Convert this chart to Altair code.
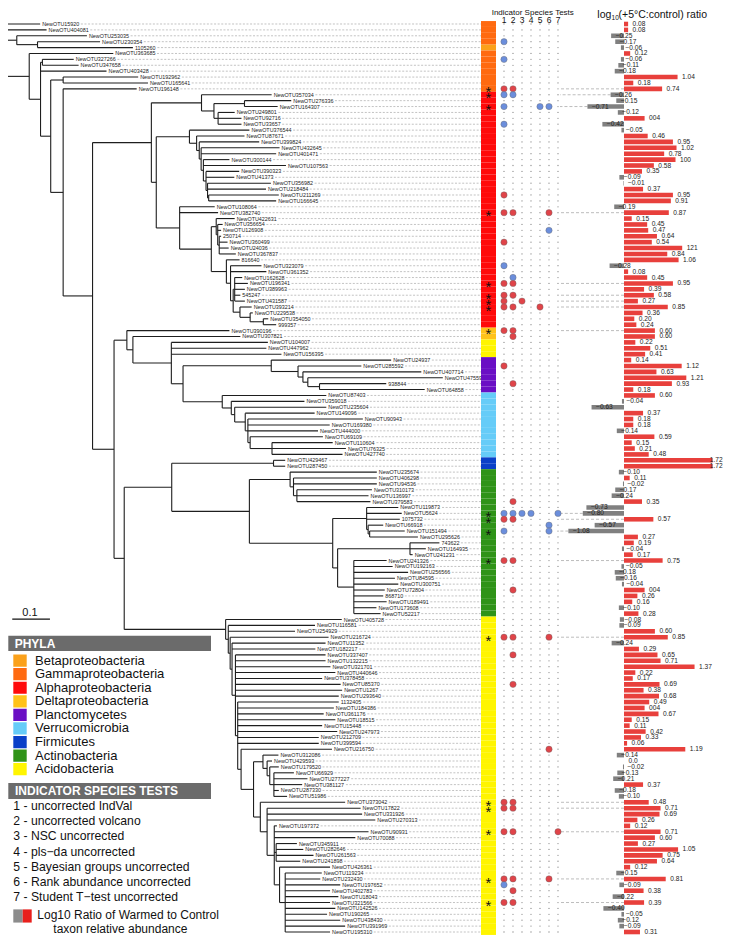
import altair as alt
import pandas as pd

# ------------------------------------------------------------------ data
# phylogeny (Newick, branch lengths in substitutions/site)
K_ = ("(816640:0.035,(NewOTU323079:0.082,NewOTU361352:0.095,((NewOTU162628:0.02,NewOTU196341:0.035,"
      "NewOTU389963:0.027,545247:0.015,NewOTU431587:0.027):0.004,(NewOTU393214:0.031,(NewOTU229538:0.007,"
      "(NewOTU354050:0.013,999357:0.034):0.035):0.027):0.018):0.007):0.011)")
J1_ = ("(NewOTU422631:0.049,(NewOTU356654:0.013,NewOTU126908:0.009,(250714:0.005,NewOTU360499:0.022,"
       "NewOTU24036:0.025,NewOTU367837:0.044):0.004):0.004)")
I_ = "(NewOTU108064:0.093,NewOTU382740:0.102,(" + J1_ + ":0.013," + K_ + ":0.04):0.084)"
H_ = ("(NewOTU376544:0.159,(NewOTU87671:0.127,(NewOTU399824:0.159,(NewOTU432645:0.208,NewOTU401471:0.199,"
      "(NewOTU300144:0.069,NewOTU107563:0.219,(NewOTU390323:0.088,NewOTU41373:0.075,(NewOTU356982:0.168,"
      "NewOTU218484:0.155,(NewOTU211269:0.186,NewOTU166645:0.179):0.003):0.004):0.007):0.006):0.005):0.007):0.019)")
G_ = ("((NewOTU357034:0.186,((NewOTU276336:0.124,NewOTU164307:0.088):0.081,(NewOTU249801:0.044,"
      "NewOTU92716:0.062,NewOTU33657:0.062):0.011):0.033):0.133,(" + H_ + ":0.088," + I_ + ":0.062):0.013)")
Q_ = ("(NewOTU24937:0.318,(NewOTU285592:0.168,(NewOTU407714:0.314,(NewOTU47559:0.358,(938844:0.177,"
      "NewOTU64858:0.279):0.031):0.013):0.013):0.071)")
R_ = ("(NewOTU87403:0.276,(NewOTU359018:0.194,(NewOTU235604:0.243,(NewOTU149096:0.184,(NewOTU90943:0.305,"
      "NewOTU169380:0.217,NewOTU444000:0.186,(NewOTU69109:0.193,(NewOTU110604:0.161,NewOTU76325:0.196,"
      "NewOTU427740:0.187):0.058):0.006):0.007):0.028):0.009):0.024)")
O_ = "(NewOTU104007:0.256,NewOTU447962:0.252,NewOTU156395:0.292,(" + Q_ + ":0.234," + R_ + ":0.104):0.031)"
N_ = "(NewOTU390196:0.272,(NewOTU307821:0.285," + O_ + ":0.102):0.016)"
U1_ = ("(NewOTU235674:0.23,(NewOTU406298:0.221,NewOTU94536:0.221,(NewOTU310173:0.199,NewOTU136997:0.19,"
       "NewOTU379583:0.195):0.009):0.009)")
V_ = ("((NewOTU119873:0.084,NewOTU5624:0.093,1075732:0.088,(NewOTU66918:0.04,(NewOTU151494:0.093,"
      "NewOTU295626:0.128):0.004):0.004):0.09,((743622:0.078,NewOTU164935:0.042,NewOTU241231:0.007):0.192,"
      "(NewOTU241326:0.087,NewOTU192163:0.103,NewOTU256566:0.144,NewOTU84595:0.109,NewOTU300751:0.118,"
      "NewOTU72804:0.082,868710:0.078,NewOTU189491:0.087,NewOTU173608:0.06,NewOTU52217:0.071):0.043):0.013)")
T_ = "((NewOTU429467:0.031,NewOTU287450:0.031):0.27,(" + U1_ + ":0.108," + V_ + ":0.221):0.206)"
Y1_ = ("(NewOTU312086:0.041,(NewOTU429593:0.013,(NewOTU179520:0.024,(NewOTU66929:0.053,NewOTU277227:0.089,"
       "NewOTU381127:0.075,NewOTU287330:0.013,NewOTU51986:0.035):0.011):0.007):0.011)")
Z_ = ("(NewOTU373042:0.225,(NewOTU17822:0.248,NewOTU331926:0.252,NewOTU270313:0.287,(NewOTU197372:0.007,"
      "NewOTU90931:0.25,NewOTU70088:0.215,(NewOTU345911:0.055,NewOTU282646:0.072,NewOTU261563:0.099,"
      "NewOTU241898:0.064):0.005,(NewOTU426361:0.134,(NewOTU119234:0.097,NewOTU232430:0.093,NewOTU197652:0.146,"
      "NewOTU402783:0.119,NewOTU18043:0.141,NewOTU321566:0.119,NewOTU142526:0.133,NewOTU190265:0.111,"
      "NewOTU438430:0.146,NewOTU391969:0.159,NewOTU195310:0.119):0.015):0.014):0.019):0.018)")
X_ = ("(NewOTU405728:0.308,(NewOTU116581:0.23,NewOTU254929:0.177,(NewOTU216724:0.261,(NewOTU11352:0.248,"
      "NewOTU182217:0.221,(NewOTU337407:0.239,NewOTU132215:0.239,NewOTU321701:0.252,NewOTU440646:0.265,"
      "NewOTU378458:0.23,NewOTU85370:0.279,NewOTU1267:0.283,NewOTU293640:0.274,(1132405:0.268,NewOTU184386:0.255,"
      "NewOTU361176:0.228,NewOTU18515:0.259,NewOTU15448:0.224,NewOTU247973:0.264,NewOTU212709:0.215,"
      "NewOTU399594:0.215,(NewOTU216750:0.241,(" + Y1_ + ":0.025," + Z_ + ":0.018):0.033):0.009):0.006):0.009)"
      ":0.005):0.005):0.007)")
M_ = "(" + N_ + ":0.034,(" + T_ + ":0.126," + X_ + ":0.269):0.027)"
newick = ("(NewOTU15920:0.087,NewOTU404081:0.104,(NewOTU253035:0.186,(NewOTU230354:0.166,1105260:0.253):0.055):0.025,"
          "(NewOTU363685:0.223,((NewOTU327266:0.083,NewOTU347658:0.096):0.005,NewOTU403428:0.175,"
          "((NewOTU192962:0.199,NewOTU165641:0.225):0.033,(NewOTU196148:0.195,(" + G_ + ":0.156," + M_ +
          ":0.057):0.078):0.033):0.027):0.03):0.058):0.015;")

# log10(+5C:control) ratio, top to bottom, and the labels printed beside the bars
ratio = [0.08, 0.08, -0.25, -0.17, -0.06, 0.12, -0.06, -0.11, -0.18, 1.04,
         0.18, 0.74, -0.26, -0.15, -0.71, -0.12, 0.40, -0.42, -0.05, 0.46,
         0.95, 1.02, 0.78, 1.00, 0.58, 0.35, -0.09, -0.01, 0.37, 0.95,
         0.91, -0.19, 0.87, 0.15, 0.45, 0.47, 0.64, 0.54, 1.13, 0.84,
         1.06, -0.28, 0.08, 0.45, 0.95, 0.39, 0.58, 0.27, 0.85, 0.36,
         0.20, 0.24, 0.60, 0.60, 0.22, 0.51, 0.41, 0.14, 1.12, 0.63,
         1.21, 0.93, 0.18, 0.60, -0.04, -0.63, 0.37, 0.18, 0.18, -0.14,
         0.59, 0.15, 0.21, 0.48, 1.72, 1.72, -0.10, 0.11, -0.02, -0.17,
         -0.24, 0.35, -0.73, -0.80, 0.57, -0.57, -1.08, 0.27, 0.19, -0.04,
         0.17, 0.75, -0.05, -0.18, -0.16, -0.04, 0.40, 0.26, 0.16, -0.10,
         0.28, -0.08, -0.09, 0.60, 0.85, -0.24, 0.29, 0.65, 0.71, 1.37,
         0.22, 0.17, 0.69, 0.38, 0.68, 0.49, 0.40, 0.67, 0.15, 0.11,
         0.42, 0.33, 0.06, 1.19, -0.14, 0.00, -0.02, -0.13, -0.21, 0.37,
         -0.18, -0.10, 0.48, 0.71, 0.69, 0.26, 0.12, 0.71, 0.60, 0.27,
         1.05, 0.75, 0.64, 0.12, -0.15, 0.81, -0.09, 0.38, -0.22, 0.39,
         -0.40, -0.05, -0.12, -0.09, 0.31]
ratio_text = ["0.08", "0.08", "−0.25", "−0.17", "−0.06", "0.12", "−0.06", "−0.11", "−0.18", "1.04",
              "0.18", "0.74", "−0.26", "−0.15", "−0.71", "−0.12", "004", "−0.42", "−0.05", "0.46",
              "0.95", "1.02", "0.78", "100", "0.58", "0.35", "−0.09", "−0.01", "0.37", "0.95",
              "0.91", "−0.19", "0.87", "0.15", "0.45", "0.47", "0.64", "0.54", "121", "0.84",
              "1.06", "−0.28", "0.08", "0.45", "0.95", "0.39", "0.58", "0.27", "0.85", "0.36",
              "0.20", "0.24", "0.60", "0.60", "0.22", "0.51", "0.41", "0.14", "1.12", "0.63",
              "1.21", "0.93", "0.18", "0.60", "−0.04", "−0.63", "0.37", "0.18", "0.18", "−0.14",
              "0.59", "0.15", "0.21", "0.48", "1.72", "1.72", "−0.10", "0.11", "−0.02", "−0.17",
              "−0.24", "0.35", "−0.73", "−0.80", "0.57", "−0.57", "−1.08", "0.27", "0.19", "−0.04",
              "0.17", "0.75", "−0.05", "−0.18", "−0.16", "−0.04", "004", "0.26", "0.16", "−0.10",
              "0.28", "−0.08", "−0.09", "0.60", "0.85", "−0.24", "0.29", "0.65", "0.71", "1.37",
              "0.22", "0.17", "0.69", "0.38", "0.68", "0.49", "004", "0.67", "0.15", "0.11",
              "0.42", "0.33", "0.06", "1.19", "−0.14", "0.0", "−0.02", "−0.13", "−0.21", "0.37",
              "−0.18", "−0.10", "0.48", "0.71", "0.69", "0.26", "0.12", "0.71", "0.60", "0.27",
              "1.05", "0.75", "0.64", "0.12", "−0.15", "0.81", "−0.09", "0.38", "−0.22", "0.39",
              "−0.40", "−0.05", "−0.12", "−0.09", "0.31"]

phyla = ["Betaproteobacteria", "Gammaproteobacteria", "Alphaproteobacteria", "Deltaproteobacteria",
         "Planctomycetes", "Verrucomicrobia", "Firmicutes", "Actinobacteria", "Acidobacteria"]
phyla_colors = ["#FBA11B", "#FF6A10", "#FF0A0A", "#FFC21A", "#6A0FC4", "#66CCF8", "#0A40C8", "#2F9318", "#FFF500"]
# phylum of consecutive leaves, top to bottom
phylum_runs = [("Gammaproteobacteria", 4), ("Betaproteobacteria", 1), ("Gammaproteobacteria", 7),
               ("Alphaproteobacteria", 40), ("Deltaproteobacteria", 2), ("Acidobacteria", 3),
               ("Planctomycetes", 6), ("Verrucomicrobia", 11), ("Firmicutes", 2),
               ("Actinobacteria", 25), ("Acidobacteria", 54)]

tests = ["1 - uncorrected IndVal", "2 - uncorrected volcano", "3 - NSC uncorrected",
         "4 - pls−da uncorrected", "5 - Bayesian groups uncorrected", "6 - Rank abundance uncorrected",
         "7 - Student T−test uncorrected"]
# (leaf row, test number, direction: w = warmed indicator, c = control indicator)
hits = [(4, 1, "c"), (7, 1, "c"), (12, 1, "w"), (12, 2, "w"), (13, 1, "c"), (13, 2, "c"),
        (15, 1, "c"), (15, 5, "c"), (15, 6, "c"), (18, 1, "c"), (30, 1, "w"),
        (33, 1, "w"), (33, 2, "w"), (33, 6, "w"), (36, 6, "c"), (38, 1, "w"), (42, 1, "c"),
        (44, 2, "c"), (45, 1, "w"), (45, 2, "w"), (47, 1, "w"), (47, 2, "w"), (48, 1, "w"), (48, 3, "w"),
        (49, 1, "w"), (49, 2, "w"), (49, 5, "w"), (53, 1, "w"), (53, 2, "w"), (54, 2, "w"),
        (59, 1, "w"), (62, 2, "w"), (82, 2, "w"),
        (84, 1, "c"), (84, 2, "c"), (84, 3, "c"), (84, 4, "c"), (84, 7, "c"),
        (85, 1, "w"), (85, 2, "w"), (86, 6, "c"), (87, 1, "c"), (87, 6, "c"),
        (92, 1, "w"), (92, 2, "w"), (97, 2, "w"), (105, 1, "w"), (105, 2, "w"), (105, 6, "w"),
        (108, 2, "w"), (113, 2, "w"), (124, 6, "w"), (133, 1, "w"), (133, 2, "w"),
        (134, 1, "w"), (134, 2, "w"), (138, 1, "w"), (138, 2, "w"), (138, 7, "w"),
        (146, 1, "w"), (146, 2, "w"), (146, 6, "w"), (147, 1, "c"), (148, 2, "w"),
        (150, 1, "w"), (150, 2, "w")]
starred = [12, 13, 15, 33, 45, 47, 48, 49, 53, 84, 85, 87, 92, 105, 133, 134, 138, 146, 150]

# ------------------------------------------------------------------ tree parsing / layout
def parse_newick(s):
    s = "".join(s.split())
    pos = 0

    def node():
        nonlocal pos
        kids = []
        if s[pos] == "(":
            pos += 1
            while True:
                kids.append(node())
                if s[pos] == ",":
                    pos += 1
                    continue
                pos += 1
                break
        start = pos
        while pos < len(s) and s[pos] not in ",():;":
            pos += 1
        name = s[start:pos]
        length = 0.0
        if pos < len(s) and s[pos] == ":":
            pos += 1
            start = pos
            while pos < len(s) and s[pos] not in ",();":
                pos += 1
            length = float(s[start:pos])
        return {"name": name, "len": length, "kids": kids}

    return node()


root = parse_newick(newick)
leaves = []


def place(n, base):
    n["depth"] = base + n["len"]
    if not n["kids"]:
        leaves.append(n)
        n["row"] = len(leaves)
    else:
        for k in n["kids"]:
            place(k, n["depth"])
        n["row"] = (n["kids"][0]["row"] + n["kids"][-1]["row"]) / 2


place(root, 0.0)
segs = []


def branches(n, base):
    segs.append({"x": base, "x2": n["depth"], "y": n["row"], "y2": n["row"]})
    if n["kids"]:
        segs.append({"x": n["depth"], "x2": n["depth"], "y": n["kids"][0]["row"], "y2": n["kids"][-1]["row"]})
        for k in n["kids"]:
            branches(k, n["depth"])


branches(root, 0.0)
seg_df = pd.DataFrame(segs)

# ------------------------------------------------------------------ layout helpers
FONT = "Liberation Sans"
TREE_PX = 377.0          # px per unit of branch length
TREE_X0 = -6.3
BAR_X0, BAR_PX = 616.0, 51.5
STRIP_X, STRIP_X2 = 473, 488
LABEL_CAP = 1.58         # bar labels stay inside the picture


def py(v):
    return -5.81 + 0.99127 * v


YS = alt.Scale(domain=[1, 155], range=[py(22), py(938)], nice=False, zero=False)
XT = alt.Scale(domain=[0, 1], range=[TREE_X0, TREE_X0 + TREE_PX], nice=False, zero=False)
XI = alt.Scale(domain=[1, 7], range=[496, 550], nice=False, zero=False)
XB = alt.Scale(domain=[0, 1], range=[BAR_X0, BAR_X0 + BAR_PX], nice=False, zero=False)

CW = {"N": .722, "e": .556, "w": .722, "O": .778, "T": .611, "U": .722}
LABEL_SIZE = 5.4

phylum_of_row = [p for p, n in phylum_runs for _ in range(n)]
rows = []
for i, lf in enumerate(leaves):
    w = sum(CW.get(c, .556) for c in lf["name"]) * LABEL_SIZE
    dash = lf["depth"] + (2 + w + 1.5) / TREE_PX
    v = ratio[i]
    rows.append({
        "name": lf["name"], "row": lf["row"], "depth": lf["depth"], "dash": dash,
        "dash_ok": TREE_X0 + dash * TREE_PX < STRIP_X - 2,
        "phylum": phylum_of_row[i], "top": lf["row"] - 0.5, "bot": lf["row"] + 0.5,
        "v": v, "zero": 0.0, "lab": ratio_text[i], "sign": "neg" if v < 0 else "pos",
        "btop": lf["row"] - 0.39, "bbot": lf["row"] + 0.39, "conn": min(v, 0.0),
        "star": lf["row"] in starred,
    })
leaf_df = pd.DataFrame(rows)
grid_df = pd.DataFrame([{"row": r, "test": t} for r in range(1, 156) for t in range(1, 8)])
hit_df = pd.DataFrame(hits, columns=["row", "test", "dir"])

# ------------------------------------------------------------------ layers
tree = alt.Chart(seg_df).mark_rule(color="#1e1e1e", strokeWidth=1.1).encode(
    x=alt.X("x:Q", scale=XT, axis=None), x2="x2:Q",
    y=alt.Y("y:Q", scale=YS, axis=None), y2="y2:Q")

leaf_text = alt.Chart(leaf_df).mark_text(align="left", baseline="middle", dx=2, fontSize=LABEL_SIZE,
                                         font=FONT, color="#222").encode(
    x=alt.X("depth:Q", scale=XT, axis=None), y=alt.Y("row:Q", scale=YS, axis=None), text="name:N")

leaf_dash = alt.Chart(leaf_df).transform_filter("datum.dash_ok").mark_rule(
    color="#9a9a9a", strokeWidth=0.6, strokeDash=[2, 1.6]).encode(
    x=alt.X("dash:Q", scale=XT, axis=None), x2=alt.value(STRIP_X),
    y=alt.Y("row:Q", scale=YS, axis=None))

strip = alt.Chart(leaf_df).mark_rect().encode(
    x=alt.value(STRIP_X), x2=alt.value(STRIP_X2),
    y=alt.Y("top:Q", scale=YS, axis=None), y2="bot:Q",
    color=alt.Color("phylum:N", scale=alt.Scale(domain=phyla, range=phyla_colors), legend=None))

stars = alt.Chart(leaf_df).transform_filter("datum.star").mark_text(
    text="*", fontSize=15, font=FONT, color="#111", baseline="middle", dy=3.6).encode(
    x=alt.value(480.5), y=alt.Y("row:Q", scale=YS, axis=None))

grid = alt.Chart(grid_df).mark_point(filled=True, size=1.6, color="#8a8a8a", opacity=1).encode(
    x=alt.X("test:Q", scale=XI, axis=None), y=alt.Y("row:Q", scale=YS, axis=None))

hit_pts = alt.Chart(hit_df).mark_circle(size=40, opacity=1, stroke="#6a6a6a", strokeWidth=0.4).encode(
    x=alt.X("test:Q", scale=XI, axis=None), y=alt.Y("row:Q", scale=YS, axis=None),
    color=alt.Color("dir:N", scale=alt.Scale(domain=["w", "c"], range=["#E04449", "#6B8EDC"]), legend=None))

test_nums = alt.Chart(pd.DataFrame({"test": list(range(1, 8))})).mark_text(
    fontSize=8.5, font=FONT, color="#111", baseline="middle").encode(
    x=alt.X("test:Q", scale=XI, axis=None), y=alt.value(11.8), text="test:N")

connectors = alt.Chart(leaf_df).transform_filter("datum.star").mark_rule(
    color="#a0a0a0", strokeWidth=0.7, strokeDash=[3, 2]).encode(
    x=alt.X("conn:Q", scale=XB, axis=None), x2=alt.value(552), y=alt.Y("row:Q", scale=YS, axis=None))

bars = alt.Chart(leaf_df).mark_rect().encode(
    x=alt.X("v:Q", scale=XB, axis=None), x2="zero:Q",
    y=alt.Y("btop:Q", scale=YS, axis=None), y2="bbot:Q",
    color=alt.Color("sign:N", scale=alt.Scale(domain=["neg", "pos"], range=["#808080", "#E8403C"]), legend=None))

bar_text = alt.Chart(leaf_df).transform_calculate(
    lx="min(datum.v, %s)" % LABEL_CAP).mark_text(
    align="left", baseline="middle", dx=4.5, fontSize=6.6, font=FONT, color="#222").encode(
    x=alt.X("lx:Q", scale=XB, axis=None), y=alt.Y("row:Q", scale=YS, axis=None), text="lab:N")

scale_bar = alt.Chart(pd.DataFrame({"a": [0.028], "b": [0.128]})).mark_rule(
    color="#111", strokeWidth=1.2).encode(
    x=alt.X("a:Q", scale=XT, axis=None), x2="b:Q", y=alt.value(py(622.3)))


def note(text, x, y, size, weight="normal", color="#111", align="left"):
    return alt.Chart(pd.DataFrame({"t": [text]})).mark_text(
        align=align, baseline="middle", fontSize=size, font=FONT, fontWeight=weight, color=color).encode(
        x=alt.value(x), y=alt.value(y), text="t:N")


def box(x, x2, y, y2, color):
    return alt.Chart(pd.DataFrame({"k": [0]})).mark_rect(color=color).encode(
        x=alt.value(x), x2=alt.value(x2), y=alt.value(y), y2=alt.value(y2))


def ly(v):
    return py(v) - 1.5


PHY_Y = alt.Scale(domain=[0, 8], range=[ly(665.7), ly(775.3)], nice=False, zero=False)
TST_Y = alt.Scale(domain=[0, 6], range=[ly(812.7), ly(904)], nice=False, zero=False)
phy_df = pd.DataFrame({"phylum": phyla, "i": list(range(len(phyla)))})
tst_df = pd.DataFrame({"test": tests, "i": list(range(len(tests)))})

phy_sw = alt.Chart(phy_df).transform_calculate(a="datum.i - 0.45", b="datum.i + 0.45").mark_rect().encode(
    x=alt.value(5.3), x2=alt.value(18.7),
    y=alt.Y("a:Q", scale=PHY_Y, axis=None), y2="b:Q",
    color=alt.Color("phylum:N", scale=alt.Scale(domain=phyla, range=phyla_colors), legend=None))
phy_txt = alt.Chart(phy_df).mark_text(align="left", baseline="middle", fontSize=13, font=FONT,
                                      color="#111").encode(
    x=alt.value(27), y=alt.Y("i:Q", scale=PHY_Y, axis=None), text="phylum:N")
tst_txt = alt.Chart(tst_df).mark_text(align="left", baseline="middle", fontSize=12.2, font=FONT,
                                      color="#111").encode(
    x=alt.value(5.3), y=alt.Y("i:Q", scale=TST_Y, axis=None), text="test:N")

layers = [
    tree, leaf_text, leaf_dash, strip, stars, grid, connectors, hit_pts, test_nums, bars, bar_text,
    scale_bar, note("0.1", 22, py(616), 11, align="center"),
    note("Indicator Species Tests", 483.7, 5.2, 8),
    note("log", 589.3, 6.6, 10.5), note("10", 603.6, 9.8, 6.5), note("(+5°C:control) ratio", 610.5, 6.6, 10.5),
    box(0.3, 203, ly(640.7), ly(656), "#6b6b6b"), note("PHYLA", 6.7, ly(648.6), 12, "bold", "white"),
    phy_sw, phy_txt,
    box(0.3, 203, ly(789.3), ly(805.3), "#6b6b6b"),
    note("INDICATOR SPECIES TESTS", 7, ly(797.5), 12, "bold", "white"),
    tst_txt,
    box(5.3, 14.7, ly(916.7), ly(930), "#8c8c8c"), box(14.7, 23.7, ly(916.7), ly(930), "#E8201C"),
    note("Log10 Ratio of Warmed to Control", 29.3, ly(922.7), 12),
    note("taxon relative abundance", 45.3, ly(936.5), 12),
]

chart = alt.layer(*layers).resolve_scale(
    x="independent", y="independent", color="independent"
).properties(
    width=716, height=927, padding=0, autosize=alt.AutoSizeParams(type="none")
).configure_view(stroke=None)

chart.save("out.html", embed_options={"renderer": "svg", "actions": False})
